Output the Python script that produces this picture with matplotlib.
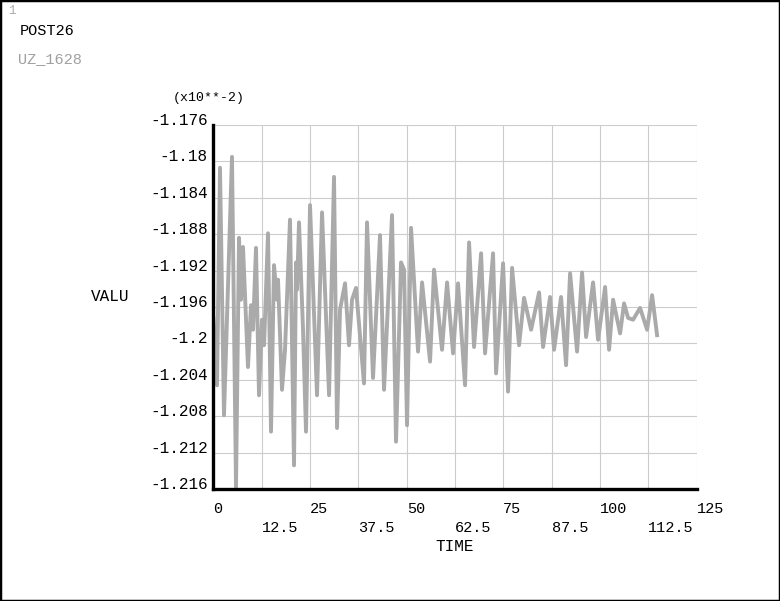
import matplotlib
matplotlib.use('Agg')
import matplotlib.pyplot as plt
from matplotlib.patches import Rectangle

# UZ_1628 时程 (x10**-2)
time = [0.0, 0.93, 1.71, 2.74, 4.81, 5.85, 6.63, 7.14, 7.66, 8.95,
        9.73, 10.25, 11.02, 11.80, 12.58, 13.10, 14.13, 14.91, 15.68, 16.46,
        16.72, 17.75, 18.53, 19.82, 20.86, 21.38, 21.64, 22.15, 23.19, 23.96,
        25.00, 26.81, 28.11, 29.92, 31.21, 31.99, 32.76, 34.06, 35.09, 35.87,
        36.90, 38.97, 39.75, 41.30, 43.11, 44.15, 46.22, 47.25, 48.55, 49.33,
        50.10, 51.14, 52.95, 53.99, 56.06, 57.09, 59.16, 60.46, 62.01, 63.30,
        65.11, 66.15, 67.44, 69.26, 70.29, 72.36, 73.14, 74.95, 76.24, 77.28,
        79.09, 80.38, 82.20, 84.27, 85.30, 87.11, 88.15, 89.96, 91.25, 92.29,
        94.10, 95.39, 96.43, 98.24, 99.53, 101.35, 102.38, 103.42, 105.23, 106.26,
        107.30, 108.59, 110.40, 112.22, 113.51, 114.80]
uz = [-1.1972, -1.2046, -1.1807, -1.2079, -1.1795, -1.2158, -1.1884, -1.1952, -1.1894, -1.2026,
      -1.1958, -1.1985, -1.1895, -1.2057, -1.1974, -1.2002, -1.1879, -1.2097, -1.1914, -1.1952,
      -1.1930, -1.2051, -1.2007, -1.1864, -1.2134, -1.1911, -1.1941, -1.1867, -1.1985, -1.2097,
      -1.1848, -1.2057, -1.1856, -1.2057, -1.1817, -1.2093, -1.1963, -1.1934, -1.2002, -1.1952,
      -1.1939, -1.2044, -1.1867, -1.2038, -1.1881, -1.2051, -1.1859, -1.2108, -1.1911, -1.1919,
      -1.2090, -1.1873, -1.2009, -1.1933, -1.2020, -1.1919, -1.2007, -1.1933, -1.2011, -1.1934,
      -1.2046, -1.1889, -1.2004, -1.1901, -1.2011, -1.1901, -1.2033, -1.1912, -1.2053, -1.1917,
      -1.2002, -1.1950, -1.1985, -1.1944, -1.2004, -1.1949, -1.2007, -1.1949, -1.2024, -1.1923,
      -1.2009, -1.1922, -1.1993, -1.1933, -1.1996, -1.1938, -1.2007, -1.1952, -1.1989, -1.1956,
      -1.1972, -1.1974, -1.1961, -1.1985, -1.1947, -1.1991]

x_major = [0, 25, 50, 75, 100, 125]
x_minor = [12.5, 37.5, 62.5, 87.5, 112.5]
y_ticks = [-1.216, -1.212, -1.208, -1.204, -1.2, -1.196, -1.192,
           -1.188, -1.184, -1.18, -1.176]
y_labels = ['-1.216', '-1.212', '-1.208', '-1.204', '-1.2', '-1.196', '-1.192',
            '-1.188', '-1.184', '-1.18', '-1.176']

plt.rcParams['font.family'] = ['Liberation Mono', 'DejaVu Sans Mono']

fig = plt.figure(figsize=(7.8, 6.01), dpi=100)
ax = fig.add_axes([213.4 / 780, 1 - 489 / 601, 483.1 / 780, 364 / 601])

ax.plot(time, uz, color='#aaaaaa', lw=2.8, zorder=3)

ax.set_xlim(0, 125)
ax.set_ylim(-1.216, -1.176)

ax.set_xticks(x_major)
ax.set_xticklabels([str(v) for v in x_major])
ax.set_xticks(x_minor, minor=True)
ax.set_xticklabels([str(v) for v in x_minor], minor=True)
ax.set_yticks(y_ticks)
ax.set_yticklabels(y_labels)

ax.tick_params(axis='x', which='major', length=0, pad=9.5, labelsize=11)
ax.tick_params(axis='x', which='minor', length=0, pad=23, labelsize=11)
ax.tick_params(axis='y', length=0, pad=4, labelsize=11.5)
for lab in ax.get_xticklabels() + ax.get_xticklabels(minor=True):
    lab.set_ha('left')
for lab in ax.get_yticklabels():
    lab.set_va('baseline')

ax.grid(True, which='both', color='#cccccc', lw=0.8)
ax.set_axisbelow(True)

for s in ['top', 'right']:
    ax.spines[s].set_visible(False)
for s in ['left', 'bottom']:
    ax.spines[s].set_linewidth(2.4)
    ax.spines[s].set_zorder(4)

ax.set_xlabel('TIME', fontsize=11.5, labelpad=3)
ax.set_ylabel('VALU', fontsize=11.5, rotation=0, ha='center', va='center')
ax.yaxis.set_label_coords(-0.214, 0.53)
ax.text(-0.084, 1.075, '(x10**-2)', transform=ax.transAxes, fontsize=9.5,
        ha='left', va='center')

fig.text(8 / 780, 1 - 11 / 601, '1', fontsize=9, color='#aaaaaa', va='center')
fig.text(20 / 780, 1 - 31 / 601, 'POST26', fontsize=11, va='center')
fig.text(18 / 780, 1 - 59 / 601, 'UZ_1628', fontsize=11, color='#a0a0a0', va='center')

fig.patches.append(Rectangle((0, 0), 1, 1, transform=fig.transFigure, fill=False,
                             edgecolor='black', lw=2.5))

plt.savefig('out.png', dpi=100)
